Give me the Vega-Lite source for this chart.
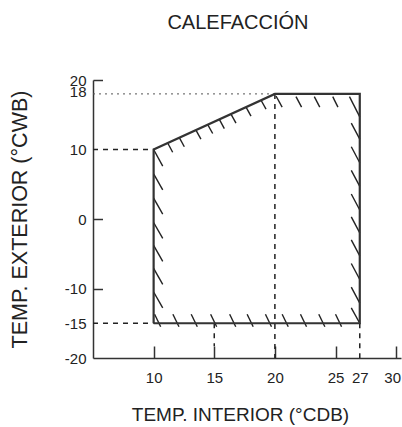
{
  "$schema": "https://vega.github.io/schema/vega-lite/v6.json",
  "width": 308,
  "height": 278,
  "autosize": {"type": "none"},
  "padding": {"left": 93, "top": 80, "right": 1, "bottom": 69},
  "title": {"text": "CALEFACCIÓN", "fontSize": 20, "font": "Liberation Sans", "fontWeight": "normal", "color": "#222", "anchor": "middle", "dx": -9, "offset": 24, "baseline": "alphabetic"},
  "config": {"view": {"stroke": null}, "font": "Liberation Sans"},
  "datasets": {
    "zone": [
      {"x": 10, "y": -15, "o": 1},
      {"x": 10, "y": 10, "o": 2},
      {"x": 20, "y": 18, "o": 3},
      {"x": 27, "y": 18, "o": 4},
      {"x": 27, "y": -15, "o": 5},
      {"x": 10, "y": -15, "o": 6}
    ],
    "dotted": [
      {"x": 5, "x2": 20, "y": 18, "y2": 18}
    ],
    "dashed": [
      {"x": 5, "x2": 10, "y": 10, "y2": 10},
      {"x": 5, "x2": 10, "y": -15, "y2": -15},
      {"x": 20, "x2": 20, "y": 18, "y2": -20},
      {"x": 27, "x2": 27, "y": -15, "y2": -20},
      {"x": 15, "x2": 15, "y": -15, "y2": -18.3}
    ],
    "hatch": [
      {"x": 10, "x2": 10.75, "y": 10, "y2": 7.6},
      {"x": 10, "x2": 10.75, "y": 6.5, "y2": 4.2},
      {"x": 10, "x2": 10.75, "y": 3.0, "y2": 0.7},
      {"x": 10, "x2": 10.75, "y": -0.5, "y2": -2.8},
      {"x": 10, "x2": 10.75, "y": -3.8, "y2": -6.1},
      {"x": 10, "x2": 10.75, "y": -7.1, "y2": -9.4},
      {"x": 10, "x2": 10.75, "y": -10.5, "y2": -12.8},
      {"x": 10.08, "x2": 10.58, "y": -13.7, "y2": -15.5},
      {"x": 11.59, "x2": 12.09, "y": -13.7, "y2": -15.5},
      {"x": 13.1, "x2": 13.6, "y": -13.7, "y2": -15.5},
      {"x": 14.7, "x2": 15.2, "y": -13.7, "y2": -15.5},
      {"x": 16.27, "x2": 16.77, "y": -13.7, "y2": -15.5},
      {"x": 17.71, "x2": 18.21, "y": -13.7, "y2": -15.5},
      {"x": 19.22, "x2": 19.72, "y": -13.7, "y2": -15.5},
      {"x": 20.6, "x2": 21.1, "y": -13.7, "y2": -15.5},
      {"x": 22.11, "x2": 22.61, "y": -13.7, "y2": -15.5},
      {"x": 23.62, "x2": 24.12, "y": -13.7, "y2": -15.5},
      {"x": 25.0, "x2": 25.5, "y": -13.7, "y2": -15.5},
      {"x": 26.15, "x2": 27, "y": 17.6, "y2": 14.7},
      {"x": 26.3, "x2": 27, "y": 13.8, "y2": 11.5},
      {"x": 26.3, "x2": 27, "y": 10.4, "y2": 8.1},
      {"x": 26.3, "x2": 27, "y": 7.0, "y2": 4.7},
      {"x": 26.3, "x2": 27, "y": 3.6, "y2": 1.3},
      {"x": 26.3, "x2": 27, "y": 0.3, "y2": -2.0},
      {"x": 26.3, "x2": 27, "y": -3.0, "y2": -5.3},
      {"x": 26.3, "x2": 27, "y": -6.4, "y2": -8.7},
      {"x": 26.3, "x2": 27, "y": -9.8, "y2": -12.1},
      {"x": 26.3, "x2": 27, "y": -12.8, "y2": -15.0},
      {"x": 20.09, "x2": 20.6, "y": 17.7, "y2": 16.1},
      {"x": 21.74, "x2": 22.2, "y": 17.6, "y2": 16.1},
      {"x": 23.25, "x2": 23.7, "y": 17.6, "y2": 16.1},
      {"x": 24.77, "x2": 25.2, "y": 17.6, "y2": 16.1},
      {"x": 11.16, "x2": 11.57, "y": 10.93, "y2": 9.6},
      {"x": 12.12, "x2": 12.53, "y": 11.7, "y2": 10.4},
      {"x": 13.49, "x2": 13.9, "y": 12.79, "y2": 11.5},
      {"x": 14.46, "x2": 14.87, "y": 13.57, "y2": 12.3},
      {"x": 15.42, "x2": 15.83, "y": 14.34, "y2": 13.0},
      {"x": 16.38, "x2": 16.79, "y": 15.1, "y2": 13.8},
      {"x": 17.62, "x2": 18.03, "y": 16.1, "y2": 14.8},
      {"x": 18.86, "x2": 19.27, "y": 17.09, "y2": 15.8}
    ]
  },
  "encoding": {
    "x": {
      "field": "x", "type": "quantitative",
      "scale": {"domain": [5, 30.4], "nice": false, "zero": false},
      "axis": {
        "title": "TEMP. INTERIOR (°CDB)",
        "values": [10, 15, 20, 25, 27, 30],
        "labelExpr": "'' + datum.value",
        "grid": false,
        "domainColor": "#333", "domainWidth": 1.5,
        "tickColor": "#333", "tickWidth": 1.5, "tickSize": -12,
        "tickOpacity": {"condition": {"test": "datum.value == 27", "value": 0}, "value": 1},
        "labelOffset": {"condition": {"test": "datum.value == 30", "value": -4}, "value": 0},
        "labelPadding": 24, "labelFontSize": 15, "labelColor": "#222", "labelFont": "Liberation Sans",
        "labelOverlap": false, "labelFlush": false,
        "titleFontSize": 19, "titleFontWeight": "normal", "titleColor": "#222", "titleFont": "Liberation Sans",
        "titlePadding": 20, "titleX": 147, "titleAlign": "center"
      }
    },
    "y": {
      "field": "y", "type": "quantitative",
      "scale": {"domain": [-20, 20], "nice": false, "zero": false},
      "axis": {
        "title": "TEMP. EXTERIOR (°CWB)",
        "values": [-20, -15, -10, 0, 10, 18, 20],
        "labelExpr": "'' + datum.value",
        "grid": false,
        "domainColor": "#333", "domainWidth": 1.5,
        "tickColor": "#333", "tickWidth": 1.5, "tickSize": -9.5,
        "tickOpacity": {"condition": {"test": "datum.value == 0 || datum.value == -10 || datum.value == 20", "value": 1}, "value": 0},
        "labelOffset": {"condition": {"test": "datum.value == 18", "value": -2}, "value": 0},
        "labelPadding": 16.5, "labelFontSize": 15, "labelColor": "#222", "labelFont": "Liberation Sans",
        "labelOverlap": false, "labelFlush": false,
        "titleFontSize": 21.5, "titleFontWeight": "normal", "titleColor": "#222", "titleFont": "Liberation Sans",
        "titlePadding": 33
      }
    }
  },
  "layer": [
    {
      "data": {"name": "dotted"},
      "mark": {"type": "rule", "color": "#555", "strokeWidth": 1, "strokeDash": [2, 4]},
      "encoding": {"x2": {"field": "x2"}, "y2": {"field": "y2"}}
    },
    {
      "data": {"name": "dashed"},
      "mark": {"type": "rule", "color": "#222", "strokeWidth": 1.5, "strokeDash": [5, 5]},
      "encoding": {"x2": {"field": "x2"}, "y2": {"field": "y2"}}
    },
    {
      "data": {"name": "hatch"},
      "mark": {"type": "rule", "color": "#222", "strokeWidth": 1.4},
      "encoding": {"x2": {"field": "x2"}, "y2": {"field": "y2"}}
    },
    {
      "data": {"name": "zone"},
      "mark": {"type": "line", "color": "#333", "strokeWidth": 2.2, "strokeJoin": "miter"},
      "encoding": {"order": {"field": "o", "type": "quantitative"}}
    }
  ]
}
